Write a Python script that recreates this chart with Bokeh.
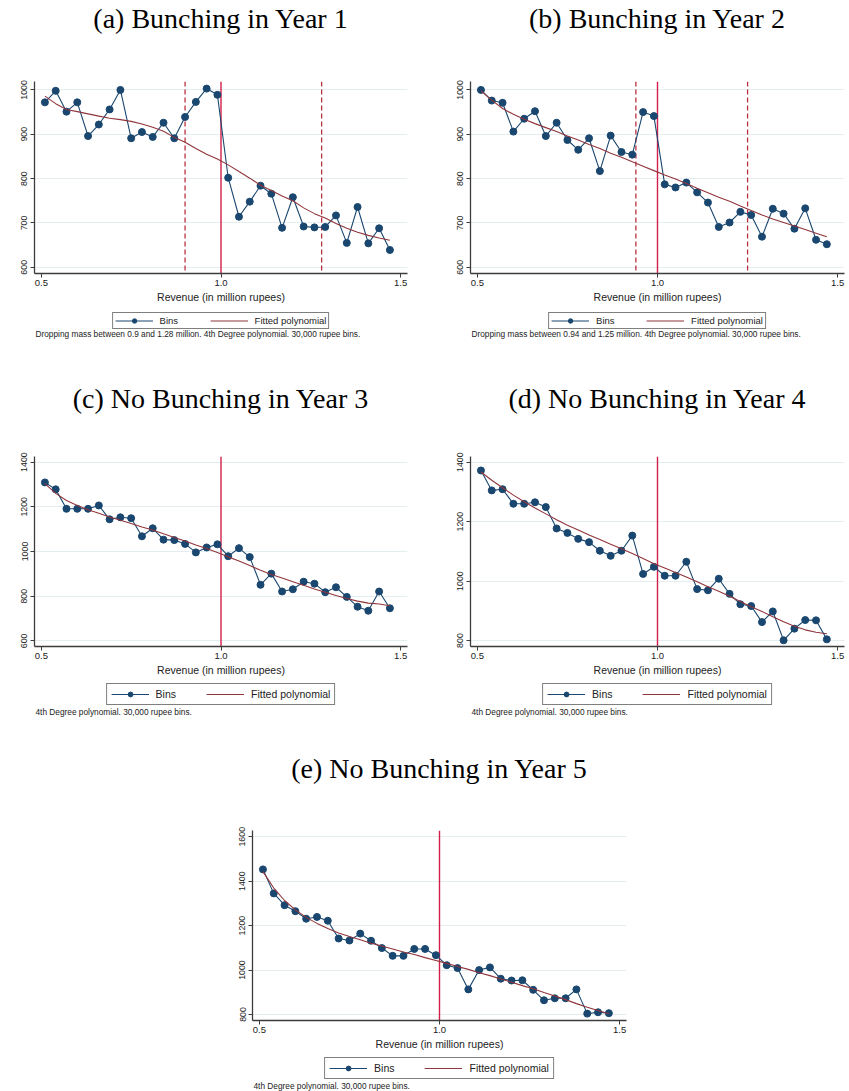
from bokeh.plotting import figure
from bokeh.models import Span, Legend, LegendItem, Label, FixedTicker, NumeralTickFormatter
from bokeh.layouts import column, row
from bokeh.embed import file_html
from bokeh.resources import INLINE

# Revenue bin midpoints (million rupees), 30,000 rupee bins
bin_mid = [0.51, 0.54, 0.57, 0.60, 0.63, 0.66, 0.69, 0.72, 0.75, 0.78, 0.81,
           0.84, 0.87, 0.90, 0.93, 0.96, 0.99, 1.02, 1.05, 1.08, 1.11, 1.14,
           1.17, 1.20, 1.23, 1.26, 1.29, 1.32, 1.35, 1.38, 1.41, 1.44, 1.47]

year1_bins = [972, 998, 951, 972, 896, 922, 956, 1000, 891, 905, 894, 926, 891, 939, 973, 1003, 989,
              802, 714, 748, 784, 766, 689, 758, 692, 690, 691, 717, 655, 736, 654, 688, 639]
year1_fit = [986, 969, 956, 951, 946, 941, 936, 933, 929, 923, 916, 907, 893, 882, 868, 855, 844,
             831, 816, 801, 785, 773, 761, 750, 734, 721, 711, 699, 688, 679, 672, 666, 661]

year2_bins = [1000, 976, 971, 906, 935, 952, 896, 926, 887, 865, 891, 817, 897, 860, 854, 950, 941,
              787, 780, 791, 769, 746, 691, 701, 725, 718, 669, 732, 721, 687, 733, 662, 652]
year2_fit = [998, 977, 958, 945, 934, 924, 915, 906, 896, 887, 877, 868, 857, 848, 838, 828, 818,
             808, 799, 789, 778, 768, 758, 749, 738, 728, 718, 709, 701, 693, 685, 677, 669]

year3_bins = [1309, 1278, 1191, 1191, 1191, 1206, 1144, 1153, 1149, 1068, 1104, 1053, 1051, 1034, 996, 1018, 1032,
              979, 1015, 975, 851, 901, 821, 831, 865, 856, 818, 840, 797, 753, 735, 821, 746]
year3_fit = [1304, 1260, 1228, 1206, 1187, 1171, 1154, 1140, 1125, 1110, 1096, 1079, 1063, 1047, 1029, 1013, 996,
             976, 957, 937, 916, 897, 881, 865, 849, 832, 818, 803, 790, 778, 769, 765, 757]

year4_bins = [1372, 1305, 1309, 1260, 1260, 1265, 1249, 1177, 1162, 1142, 1131, 1102, 1085, 1102, 1153, 1024, 1048,
              1018, 1018, 1065, 973, 969, 1008, 957, 922, 916, 862, 898, 801, 840, 869, 868, 804]
year4_fit = [1367, 1339, 1314, 1289, 1267, 1246, 1226, 1206, 1188, 1172, 1155, 1140, 1124, 1109, 1093, 1076, 1058,
             1044, 1029, 1014, 998, 981, 966, 949, 931, 914, 898, 880, 863, 848, 836, 828, 823]

year5_bins = [1453, 1345, 1292, 1265, 1231, 1239, 1222, 1142, 1133, 1164, 1132, 1099, 1064, 1064, 1095, 1095, 1067,
              1022, 1009, 913, 1000, 1012, 961, 953, 954, 911, 864, 873, 873, 913, 804, 810, 806]
year5_fit = [1443, 1369, 1313, 1271, 1237, 1210, 1187, 1167, 1151, 1136, 1121, 1108, 1095, 1081, 1070, 1056, 1043,
             1030, 1016, 1003, 988, 975, 960, 945, 930, 916, 899, 883, 867, 849, 833, 818, 803]

x_ticks = [0.5, 1.0, 1.5]
threshold = 1.0

NAVY = "#1a476f"
MAROON = "#90353b"
CRIMSON = "#d21f4b"
AXIS = "#3c3c3c"
GRID = "#e4eef0"
TEXT = "#222222"
SANS = "Liberation Sans"
SERIF = "Liberation Serif"


def blank(width, height, left, right):
    """An axis-free strip sharing the plot's horizontal margins."""
    f = figure(width=width, height=height, x_range=(0, 1), y_range=(0, 1),
               output_backend="svg", toolbar_location=None,
               x_axis_type=None, y_axis_type=None,
               min_border_left=left, min_border_right=right,
               min_border_top=0, min_border_bottom=0,
               outline_line_color=None, background_fill_color="white",
               border_fill_color="white")
    f.xgrid.visible = False
    f.ygrid.visible = False
    return f


def panel(title, bins, fit, y_range, y_ticks, note, window, width, left, right,
          head_h, frame_h, foot_h, legend_margin, legend_pad, key_h, key_font, note_y):
    # heading strip
    head = blank(width, head_h, left, right)
    head.add_layout(Label(x=(width - left - right) / 2, y=head_h - 18,
                          x_units="screen", y_units="screen", text=title,
                          text_align="center", text_baseline="middle",
                          text_font=SERIF, text_font_size="28px", text_color="black"))

    # the plot itself
    p = figure(width=width, height=11 + frame_h + 30, x_range=(0.481, 1.519), y_range=y_range,
               output_backend="svg", toolbar_location=None,
               min_border_left=left, min_border_right=right,
               min_border_top=11, min_border_bottom=30,
               background_fill_color="white", border_fill_color="white",
               outline_line_color=None)
    p.xgrid.visible = False
    p.ygrid.grid_line_color = GRID
    p.ygrid.grid_line_width = 1

    for ax in (p.xaxis, p.yaxis):
        ax.axis_line_color = AXIS
        ax.axis_line_width = 1.3
        ax.major_tick_line_color = AXIS
        ax.major_tick_line_width = 1
        ax.major_tick_out = 4
        ax.major_tick_in = 0
        ax.minor_tick_line_color = None
        ax.major_label_text_font = SANS
        ax.major_label_text_color = TEXT

    p.xaxis.ticker = FixedTicker(ticks=x_ticks)
    p.xaxis.formatter = NumeralTickFormatter(format="0.0")
    p.xaxis.major_label_text_font_size = "9.5px"
    p.xaxis.major_label_standoff = 2
    p.xaxis.axis_label = "Revenue (in million rupees)"
    p.xaxis.axis_label_text_font = SANS
    p.xaxis.axis_label_text_font_size = "10.5px"
    p.xaxis.axis_label_text_font_style = "normal"
    p.xaxis.axis_label_text_color = TEXT
    p.xaxis.axis_label_standoff = 2

    p.yaxis.ticker = FixedTicker(ticks=y_ticks)
    p.yaxis.major_label_orientation = "vertical"
    p.yaxis.major_label_text_font_size = "8.8px"
    p.yaxis.major_label_standoff = 3

    p.add_layout(Span(location=threshold, dimension="height", line_color=CRIMSON,
                      line_width=1.4, level="underlay"))
    for edge in window:
        p.add_layout(Span(location=edge, dimension="height", line_color="#b8303f",
                          line_width=1.3, line_dash="5 3", level="underlay"))

    p.line(bin_mid, bins, line_color=NAVY, line_width=1.1)
    p.scatter(bin_mid, bins, size=7, fill_color=NAVY, line_color=NAVY)
    p.line(bin_mid, fit, line_color=MAROON, line_width=1.1)

    # legend and footnote strip; the key renderers fall outside this strip's
    # unit ranges, so only their legend swatches are drawn
    foot = blank(width, foot_h, left, right)
    k_line = foot.line(bin_mid, bins, line_color=NAVY, line_width=1.1)
    k_dot = foot.scatter(bin_mid, bins, size=7, fill_color=NAVY, line_color=NAVY)
    k_fit = foot.line(bin_mid, fit, line_color=MAROON, line_width=1.1)
    legend = Legend(items=[LegendItem(label="Bins", renderers=[k_line, k_dot]),
                           LegendItem(label="Fitted polynomial", renderers=[k_fit])],
                    orientation="horizontal", location="top_center",
                    glyph_width=38, glyph_height=key_h, label_height=key_h, label_width=20,
                    label_standoff=7, spacing=30, padding=legend_pad, margin=legend_margin,
                    border_line_color="black", border_line_width=1,
                    label_text_font=SANS, label_text_font_size=key_font,
                    label_text_baseline="middle",
                    label_text_color=TEXT, background_fill_color="white",
                    background_fill_alpha=1.0)
    foot.add_layout(legend)
    foot.add_layout(Label(x=1, y=note_y, x_units="screen", y_units="screen",
                          text=note, text_align="left", text_baseline="middle",
                          text_font=SANS, text_font_size="8.3px", text_color=TEXT))
    return column(head, p, foot)


note_tail = "4th Degree polynomial. 30,000 rupee bins."

pa = panel("(a) Bunching in Year 1", year1_bins, year1_fit, (586, 1019),
           [600, 700, 800, 900, 1000],
           "Dropping mass between 0.9 and 1.28 million. " + note_tail, [0.9, 1.28],
           424, 34, 17, 70, 194, 75, 7, 2, 11, "9.5px", 47)
pb = panel("(b) Bunching in Year 2", year2_bins, year2_fit, (586, 1019),
           [600, 700, 800, 900, 1000],
           "Dropping mass between 0.94 and 1.25 million. " + note_tail, [0.94, 1.25],
           425, 46, 5, 70, 194, 75, 7, 2, 11, "9.5px", 47)
pc = panel("(c) No Bunching in Year 3", year3_bins, year3_fit, (575, 1425),
           [600, 800, 1000, 1200, 1400], note_tail, [],
           424, 34, 17, 65, 192, 72, 5, 4, 12, "10.5px", 39)
pd_ = panel("(d) No Bunching in Year 4", year4_bins, year4_fit, (780, 1419),
            [800, 1000, 1200, 1400], note_tail, [],
            425, 46, 5, 65, 192, 72, 5, 4, 12, "10.5px", 39)
pe = panel("(e) No Bunching in Year 5", year5_bins, year5_fit, (773, 1628),
           [800, 1000, 1200, 1400, 1600], note_tail, [],
           849, 252, 223, 69, 192, 39, 5, 4, 12, "10.5px", 6)

layout = column(row(pa, pb), row(pc, pd_), pe)
open("out.html", "w").write(file_html(layout, INLINE))
